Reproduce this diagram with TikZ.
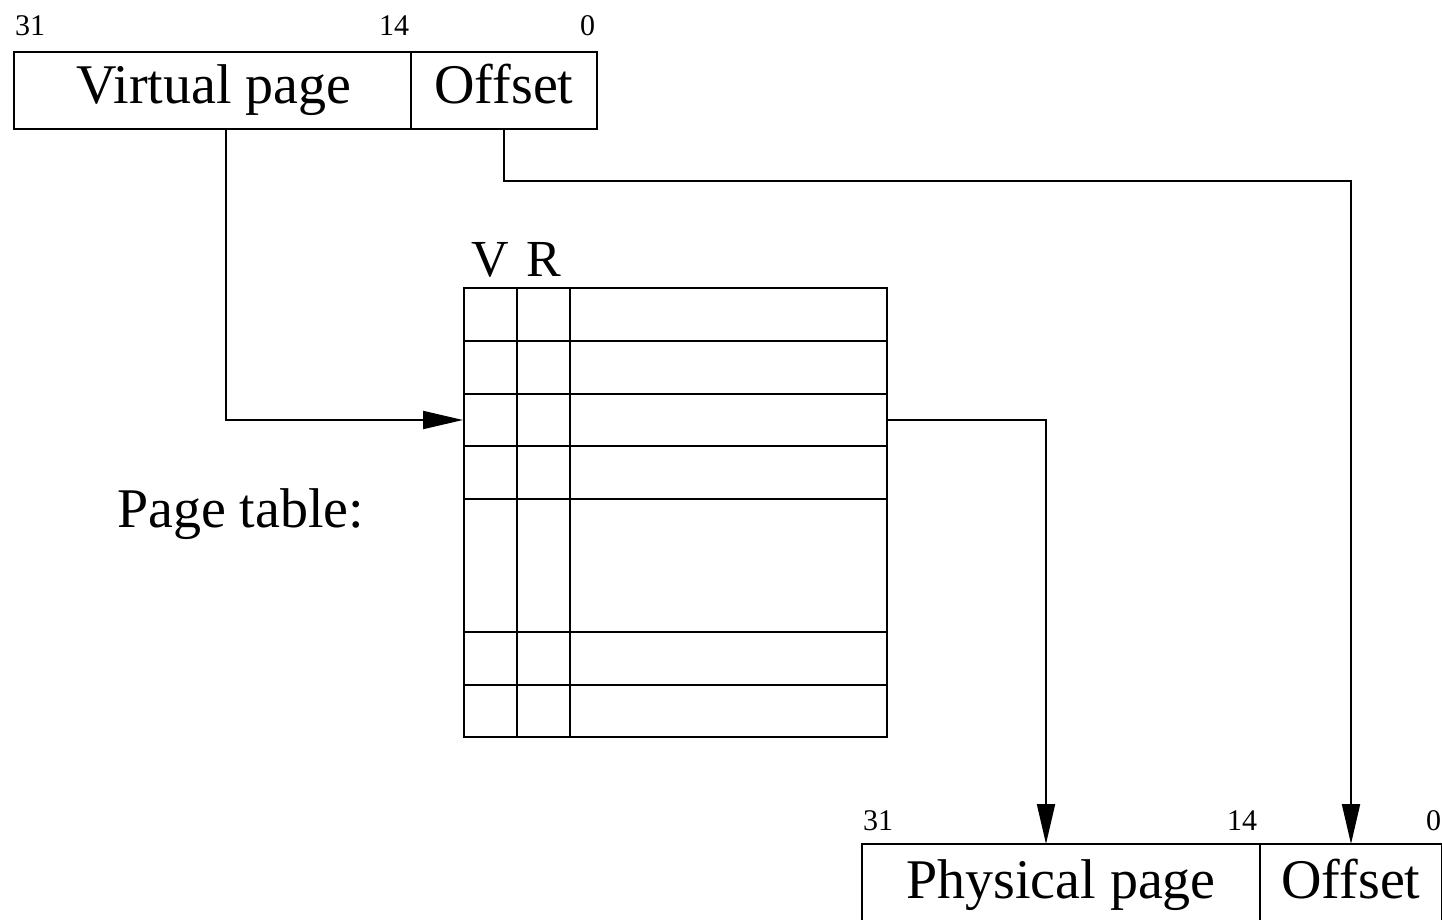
\documentclass[tikz,border=0pt]{standalone}
\usepackage{fontspec}
\setmainfont{Liberation Serif}
\usetikzlibrary{arrows.meta}
\begin{document}
\begin{tikzpicture}[x=1pt,y=-1pt,line width=2pt,
  cell/.style={draw,rectangle,inner sep=0pt,outer sep=0pt},
  celltext/.style={inner sep=0pt,anchor=base,font=\fontsize{56}{60}\selectfont},
  bitnum/.style={inner sep=0pt,font=\fontsize{30}{32}\selectfont},
  hdr/.style={inner sep=0pt,font=\fontsize{52}{56}\selectfont},
  conn/.style={line width=2pt,-{Triangle[length=40pt,width=18pt]}}]
\useasboundingbox (0,0) rectangle (1442,920);
\clip (0,0) rectangle (1442,920);
% virtual address
\node[cell,minimum width=397pt,minimum height=77pt] (vp) at (212.5,90.5) {};
\node[cell,minimum width=186pt,minimum height=77pt] (voff) at (504,90.5) {};
\node[celltext] (vpt) at (214,104) {Virtual page};
\node[celltext] (vofft) at (504,104) {Offset};
\node[bitnum,anchor=base west] (v31) at (14,36) {31};
\node[bitnum,anchor=base east] (v14) at (410,36) {14};
\node[bitnum,anchor=base east] (v0) at (596,36) {0};
% page table
\node[draw,rectangle,inner sep=0pt,minimum width=423pt,minimum height=449pt] (pt) at (675.5,512.5) {};
\draw (517,288) -- (517,737);
\draw (570,288) -- (570,737);
\foreach \y in {341,394,446,499,632,685}{\draw (464,\y) -- (887,\y);}
\node[inner sep=0pt,minimum width=423pt,minimum height=52pt] (r3) at (675.5,420) {};
\node[hdr,anchor=base] (hv) at (490.5,276) {V};
\node[hdr,anchor=base] (hr) at (543.5,276) {R};
\node[anchor=base west,inner sep=0pt,font=\fontsize{56}{60}\selectfont] (ptl) at (116,527) {Page table:};
% physical address
\node[cell,minimum width=398pt,minimum height=90pt] (pp) at (1061,889) {};
\node[cell,minimum width=182pt,minimum height=90pt] (poff) at (1351,889) {};
\node[celltext] (ppt) at (1061,898) {Physical page};
\node[celltext] (pofft) at (1351,898) {Offset};
\node[bitnum,anchor=base west] (p31) at (862,830) {31};
\node[bitnum,anchor=base east] (p14) at (1258,830) {14};
\node[bitnum,anchor=base east] (p0) at (1442,830) {0};
% connectors
\coordinate (vpout) at ([xshift=13.5pt]vp.south);
\draw[conn] (vpout) |- (r3.west);
\draw[conn] (voff.south) -- ++(0,52) -| (poff.north);
\coordinate (ppin) at ([xshift=-15pt]pp.north);
\draw[conn] (r3.east) -| (ppin);
\end{tikzpicture}
\end{document}
